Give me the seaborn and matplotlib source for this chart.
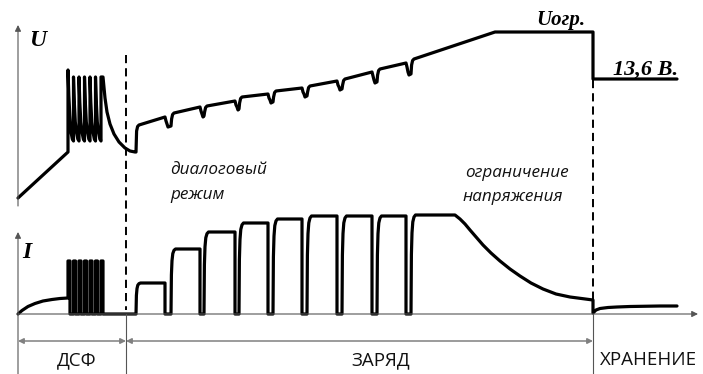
import numpy as np
import matplotlib.pyplot as plt
import seaborn as sns

# Опорные величины схемы (координаты в пикселях рисунка 703x374)
x_axis = 18
y_base = 314            # нулевой уровень тока
x_dsf_end = 126
x_charge_end = 593
x_store_end = 677

# ДСФ: ток
dsf_i_rise_x = [18, 22, 28, 35, 43, 52, 60, 68]
dsf_i_rise_y = [314, 310.5, 306.5, 303.5, 301, 299.5, 298.5, 298]
dsf_pulse_x = [68, 73.5, 79, 84.5, 90, 95.5, 101]
dsf_pulse_w = 2
dsf_i_top = 261
# ДСФ: напряжение
dsf_u_start = [18, 198]
dsf_u_knee = [68, 152]
dsf_u_spike_top = [70, 77, 77, 77, 77, 77, 77]
dsf_u_low = 141
dsf_u_tail_x = [103, 105, 107, 110, 114, 119, 125, 130, 135]
dsf_u_tail_y = [77, 98, 112, 124, 134, 142, 148, 151, 152]

# Заряд: импульсы тока
pulse_start = [136, 171, 204, 239, 273, 307, 342, 377, 411]
pulse_end = [165, 200, 235, 268, 302, 337, 372, 406, 455]
pulse_top = [283, 249, 232, 223, 219, 216, 216, 216, 215]
i_decay_x = [455, 460, 465, 470, 476, 483, 491, 500, 510, 520, 531, 543, 556, 570, 585, 593]
i_decay_y = [215, 219, 224, 230, 237, 245, 253, 261, 269, 276, 283, 289, 294, 297, 299, 300]
# Заряд: напряжение
u_seg_start = [125, 113, 106, 97, 91, 86, 79, 69, 59]
u_seg_end = [117, 107, 101, 94, 88, 81, 72, 63]
u_notch = [127, 117, 110, 103, 97, 90, 83, 75]
u_limit_x = 495
u_limit = 32

# Хранение
u_store = 79
i_store_x = [593, 596, 600, 608, 617, 630, 645, 660, 677]
i_store_y = [313, 310, 308.5, 307.5, 307, 306.5, 306.2, 306, 306]

sns.set_theme(style='white')
plt.rcParams['font.family'] = ['Open Sans', 'DejaVu Sans']


def build_current():
    xs = list(dsf_i_rise_x)
    ys = list(dsf_i_rise_y)
    for x in dsf_pulse_x:
        xs += [x, x, x + dsf_pulse_w, x + dsf_pulse_w]
        ys += [ys[-1], dsf_i_top, dsf_i_top, y_base]
    xs.append(pulse_start[0])
    ys.append(y_base)
    rise_dx = [0, 0.4, 1.0, 1.8, 3.0, 4.5]
    rise_fr = [0, 0.6, 0.82, 0.93, 0.98, 1.0]
    for k, s in enumerate(pulse_start):
        h = y_base - pulse_top[k]
        xs += [s + d for d in rise_dx]
        ys += [y_base - h * f for f in rise_fr]
        if k < len(pulse_start) - 1:
            xs += [pulse_end[k], pulse_end[k], pulse_start[k + 1]]
            ys += [pulse_top[k], y_base, y_base]
        else:
            xs += i_decay_x
            ys += i_decay_y
    xs += i_store_x
    ys += i_store_y
    return xs, ys


def build_voltage():
    xs = [dsf_u_start[0], dsf_u_knee[0]]
    ys = [dsf_u_start[1], dsf_u_knee[1]]
    n = len(dsf_pulse_x)
    for k, x in enumerate(dsf_pulse_x):
        top = dsf_u_spike_top[k]
        xs += [x, x]
        ys += [ys[-1], top]
        if k < n - 1:
            nx = dsf_pulse_x[k + 1]
            xs += [x + 0.8, x + 1.8, x + 3.0, x + 4.3, nx]
            ys += [top + 25, top + 45, 132, 139, dsf_u_low]
        else:
            xs += dsf_u_tail_x
            ys += dsf_u_tail_y
    for k, s in enumerate(pulse_start):
        xs += [s, s + 0.6, s + 1.6, s + 3]
        ys += [ys[-1], u_seg_start[k] + 6, u_seg_start[k] + 1.5, u_seg_start[k]]
        if k < len(u_seg_end):
            e = pulse_end[k]
            xs += [e, e + 1, e + 2, e + 3, pulse_start[k + 1] - 0.3]
            ys += [u_seg_end[k], u_seg_end[k] + 4, u_notch[k] - 3, u_notch[k], u_notch[k] - 1]
    xs += [u_limit_x, x_charge_end, x_charge_end, x_store_end]
    ys += [u_limit, u_limit, u_store, u_store]
    return xs, ys


fig = plt.figure(figsize=(7.03, 3.74), dpi=100)
ax = fig.add_axes([0, 0, 1, 1])

ix, iy = build_current()
ux, uy = build_voltage()
sns.lineplot(x=ix, y=iy, sort=False, estimator=None, color='black', lw=2.3, ax=ax,
             solid_joinstyle='round')
sns.lineplot(x=ux, y=uy, sort=False, estimator=None, color='black', lw=2.3, ax=ax,
             solid_joinstyle='round')

# оси
axis_col = '#555555'
arr = dict(arrowstyle='-|>', color=axis_col, lw=0.8, mutation_scale=9,
           shrinkA=0, shrinkB=0)
ax.annotate('', xy=(x_axis, 25), xytext=(x_axis, 206), arrowprops=arr)
ax.annotate('', xy=(x_axis, 232), xytext=(x_axis, 374), arrowprops=arr)
ax.annotate('', xy=(698, y_base), xytext=(x_axis, y_base), arrowprops=arr)
ax.plot([x_dsf_end, x_dsf_end], [y_base, 374], color=axis_col, lw=0.8)
ax.plot([x_charge_end, x_charge_end], [y_base, 374], color=axis_col, lw=0.8)

# пунктир границ этапов
ax.plot([x_dsf_end, x_dsf_end], [55, 310], color='black', lw=1.4,
        linestyle=(0, (4.2, 2.6)))
ax.plot([x_charge_end, x_charge_end], [80, 300], color='black', lw=1.4,
        linestyle=(0, (4.2, 2.6)))

# размерные стрелки этапов
dim_col = '#808080'
dim = dict(arrowstyle='<|-|>', color=dim_col, lw=1.1, mutation_scale=8,
           shrinkA=0, shrinkB=0)
y_dim = 341
ax.annotate('', xy=(x_dsf_end, y_dim), xytext=(x_axis, y_dim), arrowprops=dim)
ax.annotate('', xy=(x_charge_end, y_dim), xytext=(x_dsf_end, y_dim), arrowprops=dim)
ax.annotate('', xy=(710, y_dim), xytext=(x_charge_end, y_dim),
            arrowprops=dict(dim, arrowstyle='<|-'))

lab = dict(fontsize=13.5, color='#111111', ha='center', va='baseline')
ax.text(77, 365, 'ДСФ', **lab)
ax.text(381, 365, 'ЗАРЯД', **lab)
ax.text(648, 365, 'ХРАНЕНИЕ', **lab)

it = dict(fontsize=12.3, style='italic', color='#111111', ha='left', va='baseline')
ax.text(170, 174, 'диалоговый', **it)
ax.text(170, 199, 'режим', **it)
ax.text(465, 177, 'ограничение', **it)
ax.text(463, 201, 'напряжения', **it)

ser = dict(family=['Liberation Serif', 'DejaVu Serif'], weight='bold', style='italic',
           color='black', ha='left', va='baseline')
ax.text(29, 46, 'U', fontsize=17, **ser)
ax.text(22, 258, 'I', fontsize=17, **ser)
ax.text(536, 25, 'Uогр.', fontsize=15, **ser)
ax.text(613, 75, '13,6 В.', fontsize=16, **ser)

ax.set_xlim(0, 703)
ax.set_ylim(374, 0)
ax.axis('off')

fig.savefig('out.png', dpi=100)
